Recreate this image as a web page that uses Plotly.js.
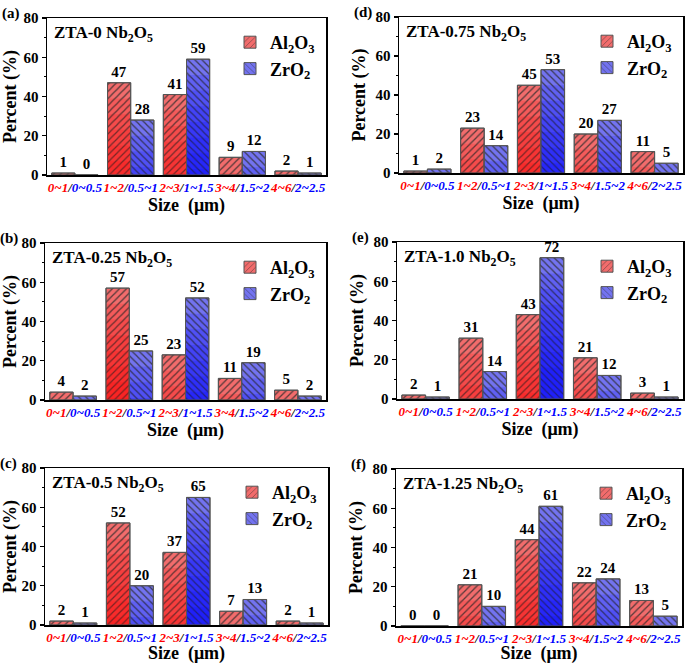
<!DOCTYPE html>
<html>
<head>
<meta charset="utf-8">
<script src="https://cdn.plot.ly/plotly-3.0.1.min.js"></script>
<style>
  html, body { margin: 0; padding: 0; background: #fff; }
  #chart { width: 685px; height: 664px; }
</style>
</head>
<body>
<div id="chart"></div>
<script>
const alRanges = ["0~1", "1~2", "2~3", "3~4", "4~6"];
const zrRanges = ["0~0.5", "0.5~1", "1~1.5", "1.5~2", "2~2.5"];
const panelLetters = ["(a)", "(b)", "(c)", "(d)", "(e)", "(f)"];
const panelNames = ["ZTA-0", "ZTA-0.25", "ZTA-0.5", "ZTA-0.75", "ZTA-1.0", "ZTA-1.25"];

const al_a = [1, 47, 41, 9, 2];
const zr_a = [0, 28, 59, 12, 1];
const al_b = [4, 57, 23, 11, 5];
const zr_b = [2, 25, 52, 19, 2];
const al_c = [2, 52, 37, 7, 2];
const zr_c = [1, 20, 65, 13, 1];
const al_d = [1, 23, 45, 20, 11];
const zr_d = [2, 14, 53, 27, 5];
const al_e = [2, 31, 43, 21, 3];
const zr_e = [1, 14, 72, 12, 1];
const al_f = [0, 21, 44, 22, 13];
const zr_f = [0, 10, 61, 24, 5];

const alSets = [al_a, al_b, al_c, al_d, al_e, al_f];
const zrSets = [zr_a, zr_b, zr_c, zr_d, zr_e, zr_f];

// plot boxes in pixels: [left, right, top, bottom]
const W = 685, H = 664;
const boxes = [
    [47, 326, 18, 175],
    [45, 326, 243, 400],
    [45, 328, 468, 625],
    [399, 683, 17, 173],
    [397, 683, 242, 399],
    [396, 682, 469, 626],
];

const serif = "Liberation Serif";
const cats = alRanges.map((r, i) => i);
const tickText = alRanges.map((r, i) =>
    `<i><span style="color:#ff0000">${r}</span>/<span style="color:#0000ff">${zrRanges[i]}</span></i>`);

const depths = [8, 16, 24, 32, 40, 48, 56];

const data = [];
const layout = {
    width: W, height: H,
    margin: { l: 0, r: 0, t: 0, b: 0 },
    paper_bgcolor: "#fff",
    plot_bgcolor: "#fff",
    barmode: "group",
    bargap: 0.17,
    bargroupgap: 0,
    showlegend: true,
    font: { family: serif, color: "#000" },
    annotations: [],
};

boxes.forEach((b, p) => {
    const n = p === 0 ? "" : String(p + 1);
    const xa = "x" + n, ya = "y" + n;
    const legendId = "legend" + n;
    const series = [
        { name: "Al<sub>2</sub>O<sub>3</sub>", vals: alSets[p], light: "#f26c6c", deep: "rgba(255,0,0,0.16)", shape: "/", group: "al" },
        { name: "ZrO<sub>2</sub>", vals: zrSets[p], light: "#7373f0", deep: "rgba(0,0,255,0.16)", shape: "\\", group: "zr" },
    ];
    series.forEach((s) => {
        // base bar with hatch (carries the legend)
        data.push({
            type: "bar", x: cats, y: s.vals, xaxis: xa, yaxis: ya,
            name: s.name, legend: legendId, offsetgroup: s.group,
            marker: { color: s.light, line: { color: "#555", width: 1 },
                pattern: { shape: s.shape, fillmode: "overlay", fgcolor: "#2a2a2a", size: 5, solidity: 0.22 } },
            hoverinfo: "skip",
        });
        // deeper colour toward the bottom of tall bars
        depths.forEach((d) => {
            data.push({
                type: "bar", x: cats, y: s.vals.map((v) => Math.max(v - d, 0)), xaxis: xa, yaxis: ya,
                offsetgroup: s.group, showlegend: false, legend: legendId,
                marker: { color: s.deep, line: { width: 0 } }, hoverinfo: "skip",
            });
        });
        // hatch + outline + value labels on top
        data.push({
            type: "bar", x: cats, y: s.vals, xaxis: xa, yaxis: ya,
            offsetgroup: s.group, showlegend: false, legend: legendId,
            text: s.vals.map(String), textposition: "outside", cliponaxis: false,
            textfont: { family: serif, size: 15, weight: "bold", color: "#000" },
            marker: { color: "rgba(0,0,0,0)", line: { color: "#555", width: 1 },
                pattern: { shape: s.shape, fillmode: "overlay", fgcolor: "#2a2a2a", bgcolor: "rgba(0,0,0,0)", size: 5, solidity: 0.22 } },
            hoverinfo: "skip",
        });
    });

    const xdom = [b[0] / W, b[1] / W];
    const ydom = [1 - b[3] / H, 1 - b[2] / H];
    layout["xaxis" + n] = {
        domain: xdom, anchor: ya, range: [-0.5, 4.5],
        tickmode: "array", tickvals: cats, ticktext: tickText, tickangle: 0,
        tickfont: { family: serif, size: 13, weight: "bold", style: "italic", color: "#000" },
        ticks: "", showline: true, linecolor: "#000", linewidth: 1.5, mirror: true,
        showgrid: false, zeroline: false, fixedrange: true, automargin: false,
        title: { text: "Size  (μm)", font: { family: serif, size: 18, weight: "bold" }, standoff: 3 },
    };
    layout["yaxis" + n] = {
        domain: ydom, anchor: xa, range: [0, 80],
        tickvals: [0, 20, 40, 60, 80], ticks: "outside", ticklen: 4, tickwidth: 1.2, tickcolor: "#000",
        minor: { tickvals: [10, 30, 50, 70], ticks: "outside", ticklen: 2, tickcolor: "#000" },
        tickfont: { family: serif, size: 15, weight: "bold", color: "#000" },
        showline: true, linecolor: "#000", linewidth: 1.5, mirror: true,
        showgrid: false, zeroline: false, fixedrange: true, automargin: false,
        title: { text: "Percent (%)", font: { family: serif, size: 18, weight: "bold" }, standoff: 5 },
    };
    layout[legendId] = {
        x: (b[1] - 6) / W, y: 1 - (b[2] + 6) / H, xanchor: "right", yanchor: "top",
        bgcolor: "rgba(0,0,0,0)", borderwidth: 0,
        font: { family: serif, size: 18, weight: "bold", color: "#000" },
        itemwidth: 30, tracegroupgap: 0,
    };
    layout.annotations.push({
        xref: "paper", yref: "paper", x: (b[0] + 5) / W, y: 1 - (b[2] + 16) / H,
        xanchor: "left", yanchor: "middle", showarrow: false,
        text: panelNames[p] + " Nb<sub>2</sub>O<sub>5</sub>",
        font: { family: serif, size: 17, weight: "bold", color: "#000" },
    });
    layout.annotations.push({
        xref: "paper", yref: "paper", x: (b[0] - 47) / W, y: 1 - (b[2] - 5) / H,
        xanchor: "left", yanchor: "middle", showarrow: false,
        text: panelLetters[p],
        font: { family: serif, size: 15, weight: "bold", color: "#000" },
    });
});

Plotly.newPlot("chart", data, layout, { displayModeBar: false, staticPlot: true });
</script>
</body>
</html>
